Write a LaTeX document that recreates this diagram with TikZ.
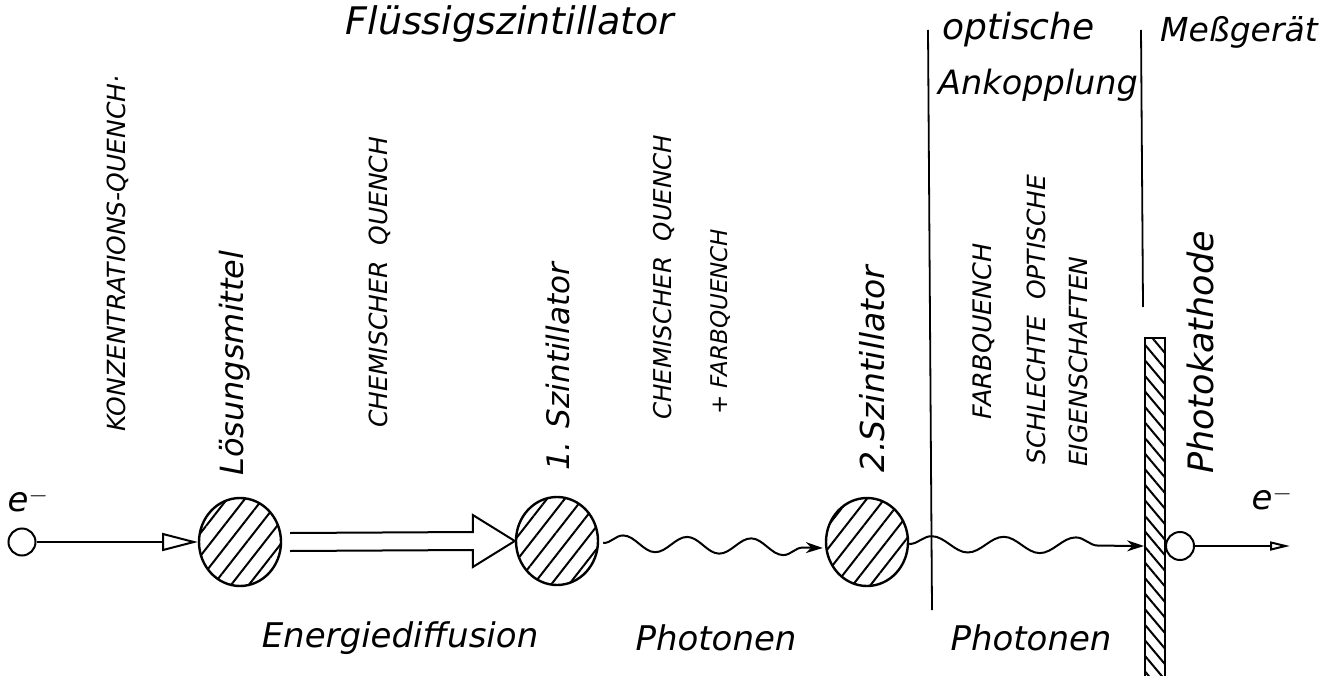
\documentclass[tikz,border=0pt]{standalone}
\usepackage{fontspec}
\setmainfont{DejaVu Sans}
\usetikzlibrary{arrows.meta,patterns.meta,decorations.pathmorphing,shapes.geometric,calc}
\newcommand{\fs}[1]{\fontsize{#1}{#1}\selectfont\itshape}
\begin{document}
\begin{tikzpicture}[x=1pt,y=-1pt,
  lbl/.style={inner sep=0pt},
  vlab/.style={inner sep=0pt, rotate=90, anchor=west},
  blob/.style={draw, line width=2.4pt, ellipse, minimum width=82pt, minimum height=88pt,
    pattern={Lines[angle=52,distance=14pt,line width=2pt]}},
  elec/.style={draw, circle, line width=2pt, minimum size=27pt, inner sep=0pt},
  wave/.style={line width=2pt, decorate, decoration={snake, segment length=64pt, amplitude=8pt, post length=10pt},
    -{Stealth[length=17pt,width=11pt]}},
  sep/.style={line width=1.8pt}]
\useasboundingbox (0,0) rectangle (1329,676);
% headers
\node[lbl, font=\fs{38}] (t1) at (510,24) {Flüssigszintillator};
\node[lbl, font=\fs{36}, anchor=west] (t2) at (942,30) {optische};
\node[lbl, font=\fs{33.5}, anchor=west] (t3) at (938,85) {Ankopplung};
\node[lbl, font=\fs{33}, anchor=west] (t4) at (1160,32) {Meßgerät};
% separators
\coordinate (s1a) at (928,30); \coordinate (s1b) at (932,610);
\coordinate (s2a) at (1141,30); \coordinate (s2b) at (1143,307);
\draw[sep] (s1a) -- (s1b);
\draw[sep] (s2a) -- (s2b);
% blobs
\node[blob] (sol) at (240,542) {};
\node[blob] (n1) at (557,541) {};
\node[blob] (n2) at (867,542) {};
% photocathode bar
\node[draw, line width=2pt, rectangle, minimum width=20pt, minimum height=340pt, inner sep=0pt,
  pattern={Lines[angle=-50,distance=10pt,line width=2pt]}] (bar) at (1155,508) {};
% electrons
\node[elec] (e1) at (22,542) {};
\node[lbl, font=\fs{34}] (le1) at (28,500) {e$^{-}$};
\node[elec, minimum size=28pt] (e2) at (1180,546) {};
\coordinate (eout) at (1290,546);
\node[lbl, font=\fs{34}] (le2) at (1272,498) {e$^{-}$};
% connectors
\draw[line width=2pt, -{Triangle[open, length=36pt, width=18pt, line width=2pt]}] (e1.east) -- (sol.west);
\draw[line width=2pt, line join=miter]
  ($(sol.east)+(8,-9)$) -- ($(n1.west)+(-42,-9)$) -- ($(n1.west)+(-42,-26)$) -- (n1.west)
  -- ($(n1.west)+(-42,26)$) -- ($(n1.west)+(-42,9)$) -- ($(sol.east)+(8,9)$);
\draw[wave] ($(n1.east)+(4,2)$) -- ($(n2.west)+(-2,6)$);
\draw[wave, decoration={segment length=72pt}] ($(n2.east)+(0,2)$) -- ($(bar.west)+(0,38)$);
\draw[line width=2pt, -{Triangle[open, length=20pt, width=9pt, line width=2pt]}] (e2.east) -- (eout);
% vertical labels
\node[vlab, font=\fs{25}] (q1) at (118,432) {KONZENTRATIONS-QUENCH·};
\node[vlab, font=\fs{32}] (l1) at (235,476) {Lösungsmittel};
\node[vlab, font=\fs{25}] (q2) at (380,428) {CHEMISCHER\ \ QUENCH};
\node[vlab, font=\fs{31}] (l2) at (558,471) {1. Szintillator};
\node[vlab, font=\fs{24.5}] (q3) at (664,420) {CHEMISCHER\ \ QUENCH};
\node[vlab, font=\fs{23}] (q4) at (720,415) {+ FARBQUENCH};
\node[vlab, font=\fs{33}] (l3) at (872,473) {2.Szintillator};
\node[vlab, font=\fs{25.5}] (q5) at (984,420) {FARBQUENCH};
\node[vlab, font=\fs{25}] (q6) at (1036,465) {SCHLECHTE\ \ OPTISCHE};
\node[vlab, font=\fs{25}] (q7) at (1078,467) {EIGENSCHAFTEN};
\node[vlab, font=\fs{35}] (l4) at (1200,474) {Photokathode};
% bottom labels
\node[lbl, font=\fs{34}] (b1) at (400,638) {Energiediffusion};
\node[lbl, font=\fs{34}] (b2) at (716,638) {Photonen};
\node[lbl, font=\fs{34}] (b3) at (1031,638) {Photonen};
\end{tikzpicture}
\end{document}
